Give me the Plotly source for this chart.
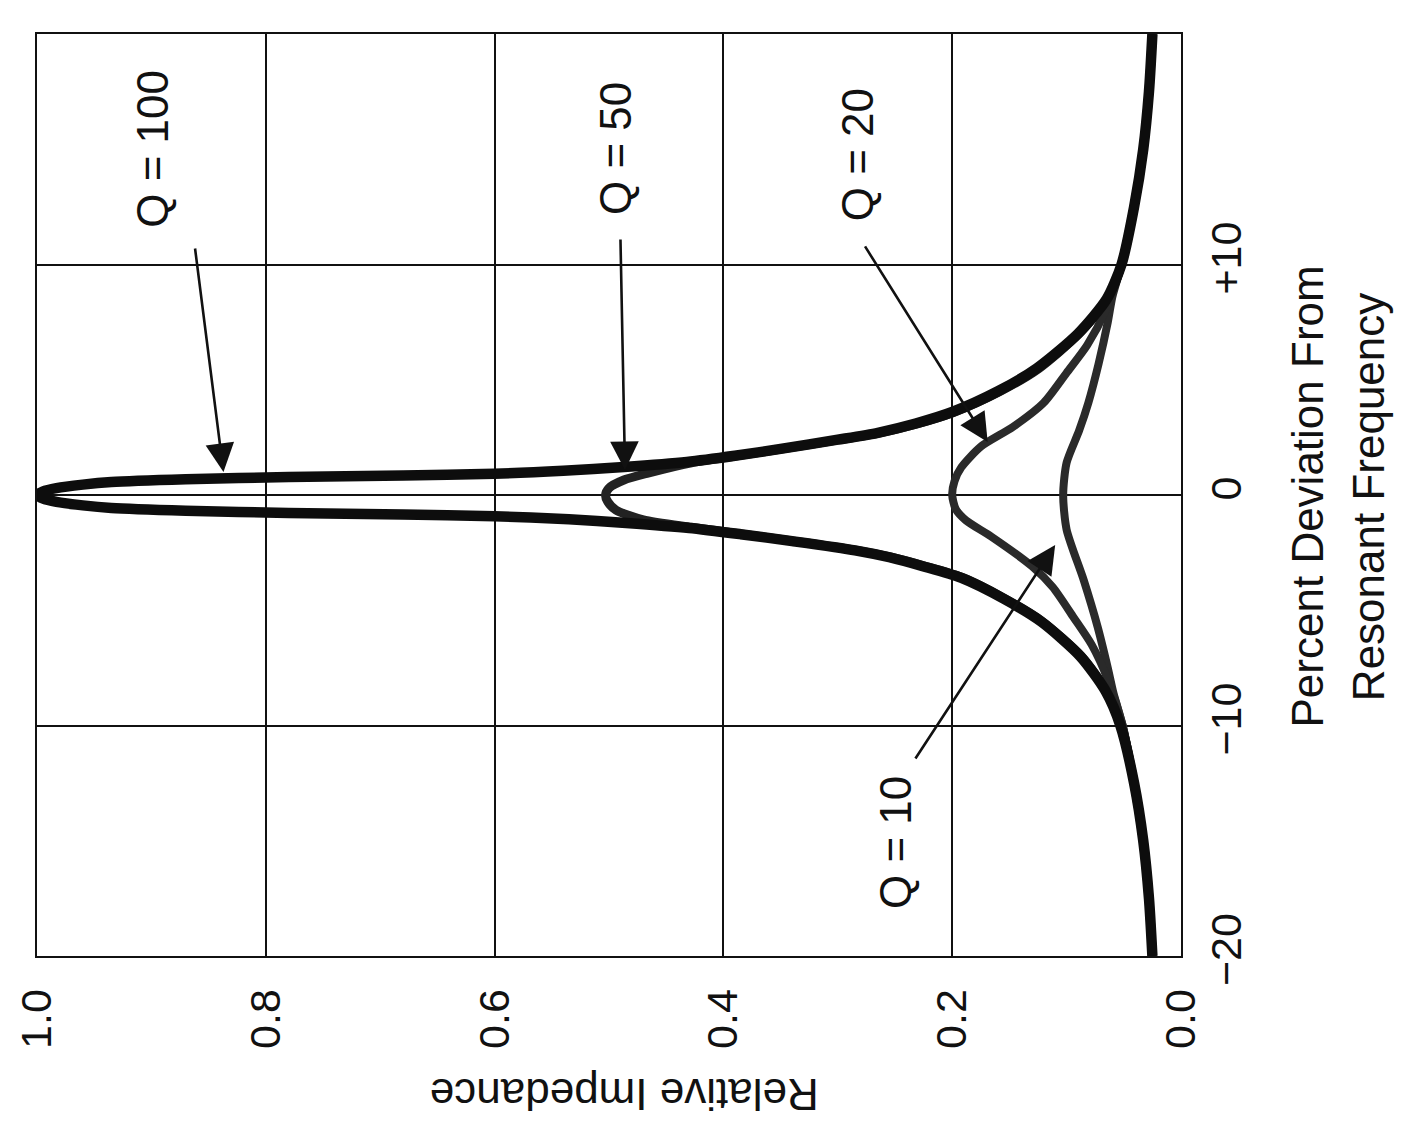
import plotly.graph_objects as go

# ---------------- data ----------------
# Percent deviation from resonant frequency (vertical axis in the picture)
# and relative impedance (horizontal axis in the picture, 1.0 at left)

dev_q100 = [-20, -17.5, -15, -12.5, -10, -8.5, -7, -5.5, -4.5, -3.6, -3.1, -2.7, -2.4, -2.0,
            -1.7, -1.43, -1.21, -1.05, -0.92, -0.85, -0.78, -0.68, -0.56, -0.45, -0.3, -0.15,
            0, 0.15, 0.3, 0.45, 0.56, 0.68, 0.78, 0.85, 0.92, 1.05, 1.21, 1.43, 1.7, 2.0,
            2.4, 2.7, 3.1, 3.6, 4.5, 5.5, 7, 8.5, 10, 12.5, 15, 17.5, 20]
imp_q100 = [0.025, 0.028, 0.033, 0.041, 0.053, 0.066, 0.088, 0.122, 0.155, 0.192, 0.225, 0.255,
            0.285, 0.340, 0.385, 0.430, 0.485, 0.535, 0.600, 0.680, 0.780, 0.870, 0.935, 0.960,
            0.983, 0.995, 1.000, 0.995, 0.983, 0.960, 0.935, 0.870, 0.780, 0.680, 0.600, 0.540,
            0.487, 0.432, 0.390, 0.350, 0.300, 0.265, 0.232, 0.200, 0.160, 0.126, 0.090, 0.065,
            0.052, 0.041, 0.033, 0.028, 0.025]

dev_q50 = [-20, -17.5, -15, -12.5, -10, -8.5, -7, -5.5, -4.5, -3.6, -3.1, -2.7, -2.4, -2.0,
           -1.7, -1.4, -1.08, -0.65, -0.3, 0, 0.3, 0.65, 0.95, 1.4, 1.7, 2.0, 2.4, 2.7, 3.1,
           3.6, 4.5, 5.5, 7, 8.5, 10, 12.5, 15, 17.5, 20]
imp_q50 = [0.025, 0.028, 0.033, 0.041, 0.052, 0.065, 0.087, 0.121, 0.154, 0.190, 0.223, 0.253,
           0.283, 0.338, 0.383, 0.428, 0.470, 0.494, 0.501, 0.503, 0.500, 0.487, 0.466, 0.428,
           0.388, 0.348, 0.298, 0.263, 0.230, 0.198, 0.158, 0.124, 0.089, 0.064, 0.052, 0.041,
           0.033, 0.028, 0.025]

dev_q20 = [-20, -17.5, -15, -12.5, -10, -8, -6.5, -5.3, -4.0, -3.1, -1.8, -1.1, -0.6, 0,
           0.6, 1.2, 2.1, 2.95, 4.0, 5.3, 6.5, 8, 10, 12.5, 15, 17.5, 20]
imp_q20 = [0.025, 0.028, 0.033, 0.041, 0.051, 0.064, 0.078, 0.094, 0.112, 0.130, 0.166, 0.188,
           0.197, 0.200, 0.198, 0.192, 0.175, 0.147, 0.120, 0.100, 0.082, 0.066, 0.052, 0.041,
           0.033, 0.028, 0.025]

dev_q10 = [-20, -17.5, -15, -12.5, -10, -8.6, -7.5, -5.7, -3.7, -1.5, 0, 1.4, 2.8, 4.0, 5.7,
           7.5, 8.6, 10, 12.5, 15, 17.5, 20]
imp_q10 = [0.025, 0.028, 0.033, 0.041, 0.051, 0.059, 0.064, 0.073, 0.085, 0.100, 0.103, 0.100,
           0.089, 0.081, 0.072, 0.064, 0.060, 0.052, 0.041, 0.033, 0.028, 0.025]

imp_ticks = [0.0, 0.2, 0.4, 0.6, 0.8, 1.0]
imp_labels = ["0.0", "0.2", "0.4", "0.6", "0.8", "1.0"]
dev_ticks = [-20, -10, 0, 10, 20]
dev_labels = ["\u221220", "\u221210", "0", "+10", "+20"]

curve_names = ["Q = 10", "Q = 20", "Q = 50", "Q = 100"]

# ---------------- figure ----------------
FONT = "Liberation Sans, Arial, Helvetica, sans-serif"

fig = go.Figure()
series = [
    (dev_q10, imp_q10, "#2a2a2a", 8),
    (dev_q20, imp_q20, "#2a2a2a", 8),
    (dev_q50, imp_q50, "#222222", 9),
    (dev_q100, imp_q100, "#0d0d0d", 10.5),
]
for (d, z, c, w), name in zip(series, curve_names):
    fig.add_trace(go.Scatter(x=z, y=d, mode="lines", name=name, showlegend=False,
                             line=dict(color=c, width=w, shape="spline", smoothing=0.7)))

ann = []
# arrows (tip x/y, tail ax/ay in data coordinates)
arrows = [
    (0.837, 1.0, 0.862, 10.76),
    (0.486, 1.08, 0.490, 11.15),
    (0.169, 2.3, 0.277, 10.85),
    (0.110, -2.17, 0.233, -11.5),
]
for x, y, axx, ayy in arrows:
    ann.append(dict(x=x, y=y, ax=axx, ay=ayy, xref="x", yref="y", axref="x", ayref="y",
                    text="", showarrow=True, arrowhead=2, arrowsize=2.2, arrowwidth=2.6,
                    arrowcolor="#111111"))
labels = [
    ("Q = 100", 0.899, 15.0),
    ("Q = 50", 0.4948, 15.05),
    ("Q = 20", 0.283, 14.75),
    ("Q = 10", 0.250, -15.1),
]
for t, x, y in labels:
    ann.append(dict(x=x, y=y, xref="x", yref="y", text=t, showarrow=False, textangle=-90,
                    font=dict(family=FONT, size=44, color="#111111"),
                    xanchor="center", yanchor="middle"))

ann.append(dict(x=0.513, y=-0.151, xref="paper", yref="paper", text="Relative Impedance",
                showarrow=False, textangle=180, font=dict(family=FONT, size=44, color="#111111"),
                xanchor="center", yanchor="middle"))
ann.append(dict(x=1.1107, y=0.498, xref="paper", yref="paper", text="Percent Deviation From",
                showarrow=False, textangle=-90, font=dict(family=FONT, size=44, color="#111111"),
                xanchor="center", yanchor="middle"))
ann.append(dict(x=1.1646, y=0.498, xref="paper", yref="paper", text="Resonant Frequency",
                showarrow=False, textangle=-90, font=dict(family=FONT, size=44, color="#111111"),
                xanchor="center", yanchor="middle"))

fig.update_layout(
    width=1401, height=1128,
    margin=dict(l=33, r=220, t=34, b=172),
    paper_bgcolor="white", plot_bgcolor="white",
    annotations=ann,
    font=dict(family=FONT, color="#111111"),
    xaxis=dict(range=[1.0, 0.0], tickvals=imp_ticks, ticktext=imp_labels, tickangle=-90,
               showgrid=True, gridcolor="#111111", gridwidth=1.6, zeroline=False,
               showline=True, mirror=True, linecolor="#111111", linewidth=2,
               ticks="", ticklabelstandoff=14, tickfont=dict(family=FONT, size=43, color="#111111")),
    yaxis=dict(range=[-20, 20], side="right", tickvals=dev_ticks, ticktext=dev_labels,
               tickangle=-90, showgrid=True, gridcolor="#111111", gridwidth=1.6, zeroline=False,
               showline=True, mirror=True, linecolor="#111111", linewidth=2,
               ticks="", ticklabelstandoff=6, tickfont=dict(family=FONT, size=43, color="#111111")),
)

fig.write_html("out.html")
